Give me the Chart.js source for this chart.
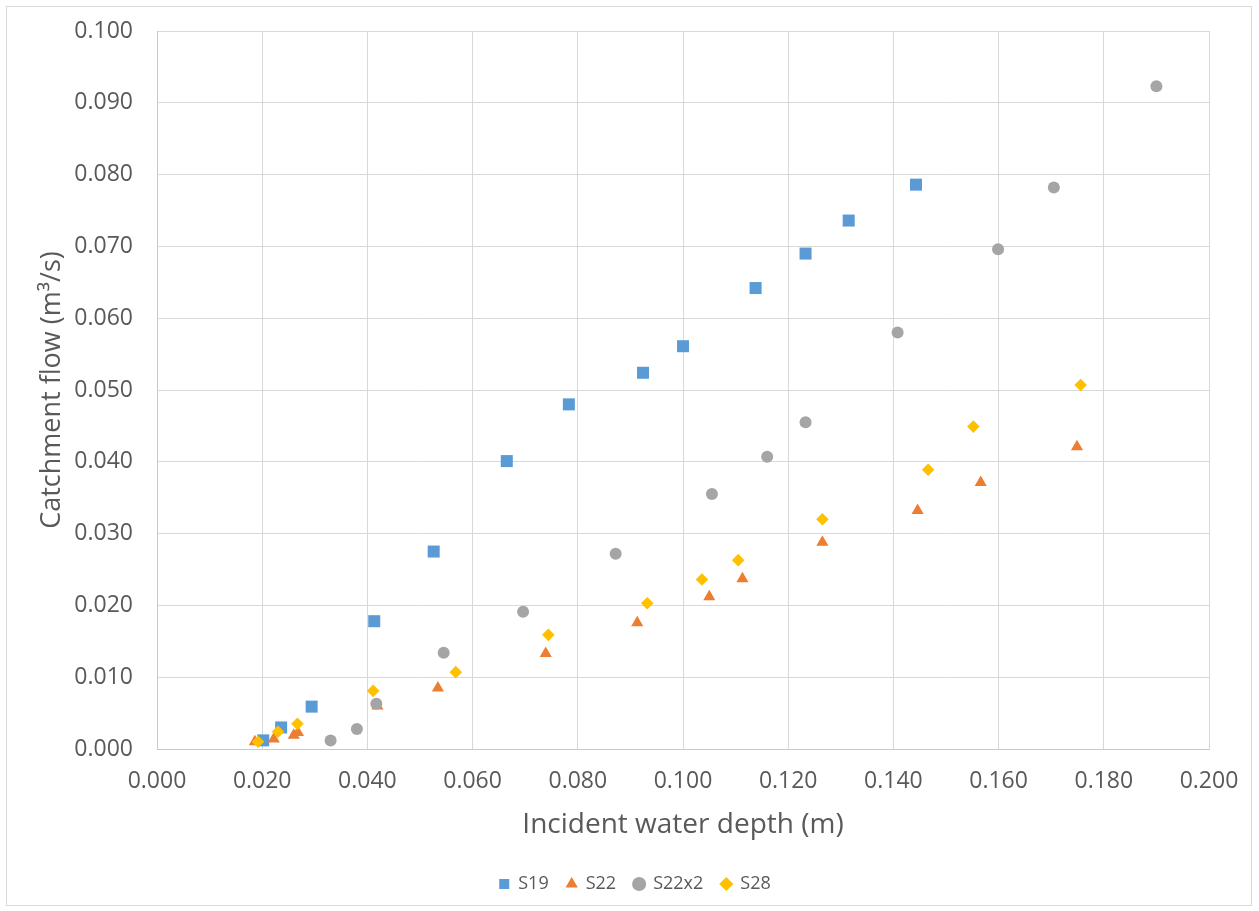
<!DOCTYPE html>
<html>
<head>
<meta charset="utf-8">
<script src="https://cdn.jsdelivr.net/npm/chart.js@4/dist/chart.umd.min.js"></script>
<style>
html,body{margin:0;padding:0;background:#fff;}
#wrap{position:absolute;left:0;top:0;width:1259px;height:911px;}
</style>
</head>
<body>
<div id="wrap"><canvas id="c" width="1259" height="911"></canvas></div>
<script>
const xTicks = [0.000,0.020,0.040,0.060,0.080,0.100,0.120,0.140,0.160,0.180,0.200];
const yTicks = [0.000,0.010,0.020,0.030,0.040,0.050,0.060,0.070,0.080,0.090,0.100];

const seriesNames = ["S19","S22","S22x2","S28"];

const s19X = [0.0202,0.0236,0.0294,0.0413,0.0526,0.0665,0.0783,0.0924,0.1000,0.1138,0.1233,0.1315,0.1443];
const s19Y = [0.0012,0.0030,0.0059,0.0178,0.0275,0.0401,0.0480,0.0524,0.0561,0.0642,0.0690,0.0736,0.0786];

const s22X = [0.0186,0.0222,0.0260,0.0268,0.0419,0.0534,0.0739,0.0913,0.1050,0.1113,0.1265,0.1446,0.1566,0.1749];
const s22Y = [0.0010,0.0014,0.0019,0.0023,0.0060,0.0085,0.0133,0.0176,0.0212,0.0237,0.0288,0.0332,0.0371,0.0421];

const s22x2X = [0.0330,0.0380,0.0417,0.0545,0.0696,0.0872,0.1055,0.1160,0.1233,0.1408,0.1599,0.1705,0.1900];
const s22x2Y = [0.0012,0.0028,0.0063,0.0134,0.0191,0.0272,0.0355,0.0407,0.0455,0.0580,0.0696,0.0782,0.0923];

const s28X = [0.0192,0.0230,0.0267,0.0411,0.0568,0.0744,0.0932,0.1036,0.1105,0.1265,0.1466,0.1552,0.1756];
const s28Y = [0.0010,0.0024,0.0035,0.0081,0.0107,0.0159,0.0203,0.0236,0.0263,0.0320,0.0389,0.0449,0.0507];

const xTitle = "Incident water depth (m)";
const yTitle = "Catchment flow (m\u00B3/s)";

function pts(xs, ys){ return xs.map((x,i)=>({x:x, y:ys[i]})); }

const styles = [
  {color:"#5B9BD5", style:"rect", r:8.5},
  {color:"#ED7D31", style:"triangle", r:7},
  {color:"#A5A5A5", style:"circle", r:6},
  {color:"#FFC000", style:"rectRot", r:6.3}
];
const allData = [pts(s19X,s19Y), pts(s22X,s22Y), pts(s22x2X,s22x2Y), pts(s28X,s28Y)];

const datasets = seriesNames.map((n,i)=>({
  label:n,
  data:allData[i],
  pointStyle:styles[i].style,
  pointRadius:styles[i].r,
  pointHoverRadius:styles[i].r,
  backgroundColor:styles[i].color,
  borderColor:styles[i].color,
  borderWidth:0,
  showLine:false,
  order:seriesNames.length - i
}));

const frame = {
  id:'frame',
  beforeDraw(chart){
    const ctx = chart.ctx;
    ctx.save();
    ctx.fillStyle = '#ffffff';
    ctx.fillRect(0,0,chart.width,chart.height);
    ctx.strokeStyle = '#d9d9d9';
    ctx.lineWidth = 1;
    ctx.strokeRect(6.5,6.5,1245,899);
    ctx.restore();
  }
};

const tickColor = '#595959';
const fam = "'Open Sans', sans-serif";

new Chart(document.getElementById('c'), {
  type:'scatter',
  data:{datasets:datasets},
  options:{
    responsive:false,
    animation:false,
    devicePixelRatio:1,
    layout:{padding:{left:11,right:0,top:31,bottom:8}},
    plugins:{
      legend:{
        position:'bottom',
        labels:{
          usePointStyle:true,
          boxWidth:10, boxHeight:10,
          color:tickColor,
          font:{family:fam,size:18},
          padding:18,
          sort:(a,b)=>a.datasetIndex-b.datasetIndex
        }
      },
      tooltip:{enabled:false}
    },
    scales:{
      x:{
        type:'linear',
        min:xTicks[0], max:xTicks[xTicks.length-1],
        afterBuildTicks(scale){ scale.ticks = xTicks.map(v=>({value:v})); },
        afterFit(scale){ scale.height = 108; scale.paddingLeft = 0; scale.paddingRight = 50; },
        ticks:{
          color:tickColor, font:{family:fam,size:23}, padding:19,
          maxRotation:0, autoSkip:false,
          callback:(v)=>Number(v).toFixed(3)
        },
        grid:{color:'#d9d9d9', lineWidth:1, drawTicks:false},
        border:{color:'#c9c9c9', width:1},
        title:{display:true, text:xTitle, color:tickColor, font:{family:fam,size:28}, padding:{top:0,bottom:15}}
      },
      y:{
        type:'linear',
        min:yTicks[0], max:yTicks[yTicks.length-1],
        afterBuildTicks(scale){ scale.ticks = yTicks.map(v=>({value:v})); },
        afterFit(scale){ scale.width = 146; scale.paddingTop = 0; scale.paddingBottom = 0; },
        ticks:{
          color:tickColor, font:{family:fam,size:23}, padding:24,
          autoSkip:false,
          callback:(v)=>Number(v).toFixed(3)
        },
        grid:{color:'#d9d9d9', lineWidth:1, drawTicks:false},
        border:{color:'#c9c9c9', width:1},
        title:{display:true, text:yTitle, color:tickColor, font:{family:fam,size:27}, padding:{top:25,bottom:0}}
      }
    }
  },
  plugins:[frame]
});
</script>
</body>
</html>
